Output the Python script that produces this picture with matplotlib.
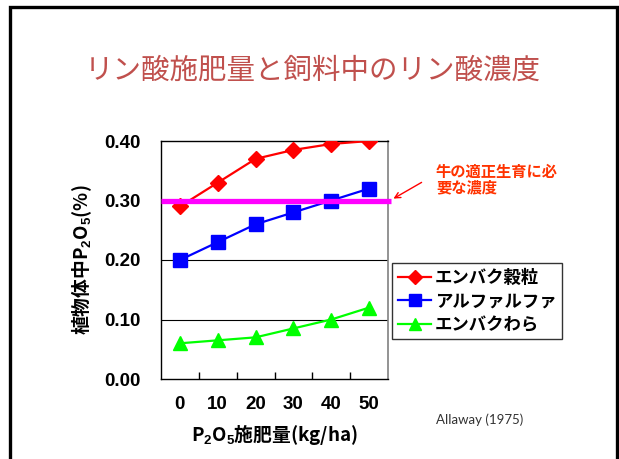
import matplotlib.pyplot as plt
from matplotlib.patches import Rectangle
from matplotlib.lines import Line2D

plt.rcParams['font.family'] = ['Liberation Sans', 'Noto Sans CJK JP', 'DejaVu Sans']
# 下付き数字用
plt.rcParams['mathtext.fontset'] = 'custom'
plt.rcParams['mathtext.rm'] = 'Liberation Sans:bold'
plt.rcParams['mathtext.bf'] = 'Liberation Sans:bold'
plt.rcParams['mathtext.it'] = 'Liberation Sans:bold'
plt.rcParams['mathtext.default'] = 'rm'

# 施肥量カテゴリと各飼料のP2O5濃度
rates = ['0', '10', '20', '30', '40', '50']
grain = [0.29, 0.33, 0.37, 0.385, 0.395, 0.40]
alfalfa = [0.20, 0.23, 0.26, 0.28, 0.30, 0.32]
straw = [0.06, 0.065, 0.07, 0.085, 0.10, 0.12]
need_level = 0.30

names = ['エンバク穀粒', 'アルファルファ', 'エンバクわら']

W, H = 619, 459
fig = plt.figure(figsize=(W / 100, H / 100), dpi=100)

# スライドの枠
fig.patches.append(Rectangle((9.5 / W, -0.05), 607 / W, 1.05 - 6.5 / H,
                             transform=fig.transFigure, fill=False,
                             edgecolor='black', linewidth=2.4, zorder=0))

fig.text(313 / W, 1 - 71 / H, 'リン酸施肥量と飼料中のリン酸濃度',
         family=['Noto Sans CJK JP'], fontsize=20.5, color='#C0504D',
         ha='center', va='center')

ax = fig.add_axes([161 / W, 1 - 379 / H, 227 / W, 238 / H])
x = list(range(len(rates)))

# 目盛線
for yv in [0.1, 0.2]:
    ax.axhline(yv, color='black', linewidth=0.8, zorder=1)

ax.plot(x, grain, color='#FF0000', marker='D', markersize=8.5, linewidth=1.6,
        zorder=3)
ax.plot(x, alfalfa, color='#0000FF', marker='s', markersize=10, linewidth=1.6,
        zorder=3)
ax.plot(x, straw, color='#00FF00', marker='^', markersize=10, linewidth=1.6,
        zorder=3)

ax.plot([-0.5, 5.58], [need_level, need_level], color='#FF00FF',
        linewidth=3.8, solid_capstyle='butt', clip_on=False, zorder=4)

ax.set_xlim(-0.5, 5.5)
ax.set_ylim(0, 0.40)
ax.set_xticks(x)
ax.set_xticklabels(rates, fontsize=13.5, fontweight='bold')
ax.set_xticks([0.5, 1.5, 2.5, 3.5, 4.5], minor=True)
ax.tick_params(axis='x', which='major', length=0, pad=12)
ax.tick_params(axis='x', which='minor', direction='in', length=5, width=1)
ax.set_yticks([0, 0.1, 0.2, 0.3, 0.4])
ax.set_yticklabels(['0.00', '0.10', '0.20', '0.30', '0.40'], fontsize=13.5,
                   fontweight='bold')
ax.tick_params(axis='y', length=0, pad=15)

for s in ['left', 'bottom', 'top']:
    ax.spines[s].set_color('black')
    ax.spines[s].set_linewidth(1.0)
ax.spines['right'].set_color('#808080')
ax.spines['right'].set_linewidth(1.2)

ax.set_xlabel('P$_2$O$_5$施肥量(kg/ha)', family=['Noto Sans CJK JP'],
              fontsize=13.5, fontweight='bold', labelpad=7)
ax.set_ylabel('植物体中P$_2$O$_5$(%)', family=['Noto Sans CJK JP'],
              fontsize=13.5, fontweight='bold', labelpad=7)

# 必要濃度の注記
ax.annotate('', xy=(391 / W, 1 - 200 / H), xytext=(424 / W, 1 - 181 / H),
            xycoords='figure fraction', textcoords='figure fraction',
            arrowprops=dict(arrowstyle='->', color='#FF0000', lw=1.0))
fig.text(436 / W, 1 - 166 / H, '牛の適正生育に必\n要な濃度', fontsize=11,
         fontweight='bold', color='#FF3300', ha='left', va='top',
         linespacing=1.0)

handles = [
    Line2D([], [], color='#FF0000', marker='D', markersize=7, linewidth=1.6),
    Line2D([], [], color='#0000FF', marker='s', markersize=8, linewidth=1.6),
    Line2D([], [], color='#00FF00', marker='^', markersize=9, linewidth=1.6),
]
leg = fig.legend(handles, names, loc='upper left',
                 bbox_to_anchor=(392 / W, 1 - 263 / H),
                 bbox_transform=fig.transFigure, borderaxespad=0,
                 prop=dict(size=12.5, weight='bold'), frameon=True,
                 fancybox=False, handlelength=1.9, handletextpad=0.2,
                 labelspacing=0.45, borderpad=0.35)
leg.get_frame().set_edgecolor('black')
leg.get_frame().set_linewidth(1.0)

fig.text(436 / W, 1 - 420 / H, 'Allaway (1975)', family=['Lato'],
         fontsize=9.5, color='#333333', ha='left', va='center')

fig.savefig('out.png', dpi=100)
